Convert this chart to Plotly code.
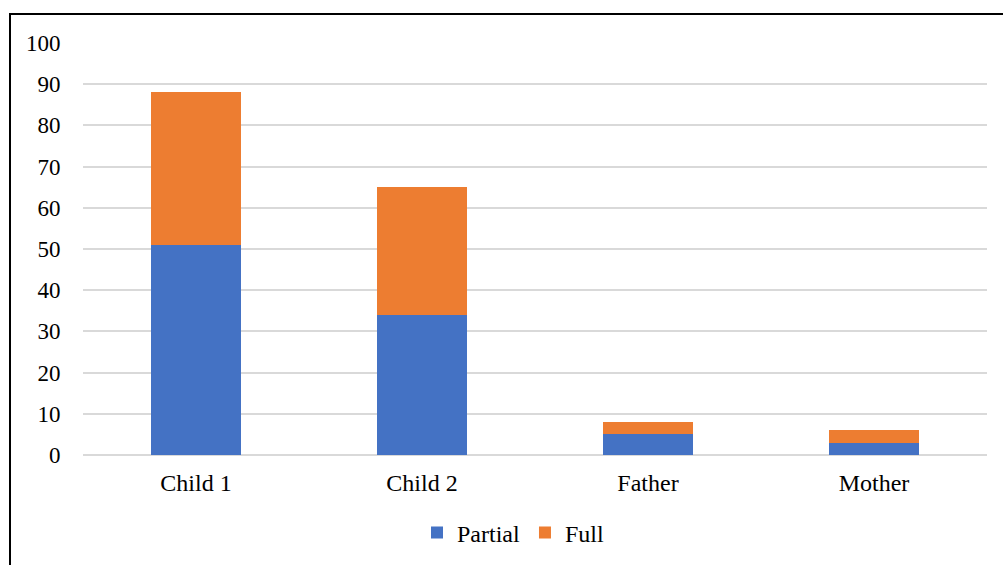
import plotly.graph_objects as go

categories = ["Child 1", "Child 2", "Father", "Mother"]
partial = [51, 34, 5, 3]
full = [37, 31, 3, 3]
y_ticks = list(range(0, 101, 10))

BLUE = "#4472C4"
ORANGE = "#ED7D31"
FONT = "Liberation Serif, Times New Roman, serif"

fig = go.Figure()
fig.add_trace(go.Bar(name="Partial", x=categories, y=partial, marker=dict(color=BLUE, line=dict(width=0))))
fig.add_trace(go.Bar(name="Full", x=categories, y=full, marker=dict(color=ORANGE, line=dict(width=0))))

# plot area spans x 83..987, y 43..455 in the 1003x565 page
L, R, T, B = 83, 1003 - 987, 43, 565 - 455
pw, ph = 1003 - L - R, 565 - T - B

def px_x(px):
    return (px - L) / pw

def px_y(py):
    return (565 - B - py) / ph

fig.update_layout(
    width=1003, height=565,
    margin=dict(l=L, r=R, t=T, b=B, autoexpand=False),
    barmode="stack",
    bargap=0.6,
    plot_bgcolor="white",
    paper_bgcolor="white",
    font=dict(family=FONT, size=23, color="#000000"),
    showlegend=True,
    legend=dict(
        orientation="h", x=px_x(513), xanchor="center",
        y=px_y(533), yanchor="middle",
        font=dict(family=FONT, size=24, color="#000000"),
        itemwidth=30, traceorder="normal",
    ),
    xaxis=dict(
        automargin=False,
        showgrid=False, showline=False, zeroline=False,
        tickfont=dict(family=FONT, size=24),
        ticks="outside", ticklen=6, tickcolor="rgba(0,0,0,0)",
    ),
    yaxis=dict(
        automargin=False,
        range=[0, 100], tickvals=y_ticks,
        showgrid=True, gridcolor="#D9D9D9", gridwidth=1.5,
        zeroline=True, zerolinecolor="#D9D9D9", zerolinewidth=1.5,
        showline=False,
        tickfont=dict(family=FONT, size=23),
        ticks="outside", ticklen=17, tickcolor="rgba(0,0,0,0)",
    ),
    shapes=[dict(
        type="rect", xref="paper", yref="paper",
        x0=px_x(10), x1=px_x(1010), y0=px_y(600), y1=px_y(14),
        line=dict(color="#000000", width=2), fillcolor="rgba(0,0,0,0)",
        layer="below",
    )],
)

fig.write_html("out.html")
